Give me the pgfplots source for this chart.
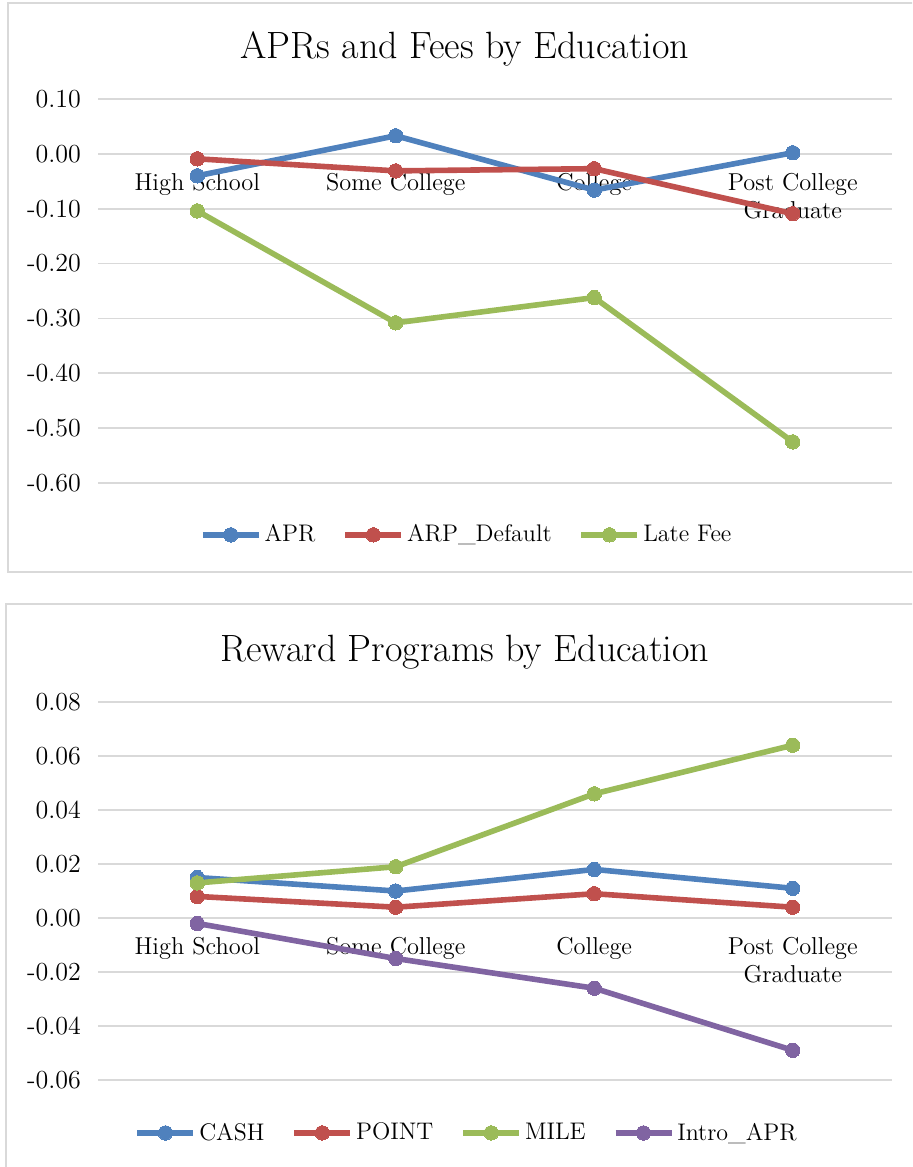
\documentclass[border=0pt]{standalone}
\usepackage{pgfplots}
\pgfplotsset{compat=1.18}
\definecolor{cBlue}{HTML}{4F81BD}
\definecolor{cRed}{HTML}{C0504D}
\definecolor{cGreen}{HTML}{9BBB59}
\definecolor{cPurple}{HTML}{8064A2}
\definecolor{cGrid}{HTML}{D9D9D9}
\pgfplotsset{
  excelchart/.style={
    scale only axis,
    width=397pt,
    xmin=-0.5, xmax=3.5,
    axis x line=middle,
    axis y line=left,
    axis line style={draw=none},
    major tick length=0pt,
    scaled ticks=false,
    xtick={0,1,2,3},
    xticklabels={High School, Some College, College, {Post College\\Graduate}},
    xticklabel style={align=center, anchor=north, yshift=-6pt, font=\fontsize{12.2}{14}\selectfont},
    yticklabel style={anchor=east, xshift=-5pt, font=\fontsize{13}{15}\selectfont},
    /pgf/number format/.cd, fixed, fixed zerofill, precision=2, assume math mode=true,
    /pgfplots/.cd,
    ymajorgrids,
    major grid style={cGrid, line width=0.9pt},
    clip=false,
    title style={at={(axis description cs:0.462,1)}, anchor=center, yshift=19pt, font=\fontsize{19}{22}\selectfont},
    legend columns=-1,
    legend style={draw=none, fill=none, font=\fontsize{12}{14}\selectfont, anchor=center,
      /tikz/every even column/.append style={column sep=12pt},
      nodes={inner xsep=1.5pt}},
    legend image code/.code={\draw[mark repeat=2, mark phase=2, #1] plot coordinates {(0pt,0pt) (14pt,0pt) (28pt,0pt)};},
  },
  ser/.style={color=#1, line width=2.8pt, mark=*, mark size=3.6pt, mark options={solid, fill=#1, draw=#1, line width=0pt}},
}
\begin{document}
\begin{tikzpicture}
\useasboundingbox (0,0) rectangle (456pt,-583.5pt);
\clip (0,0) rectangle (456pt,-583.5pt);
\draw[cGrid, line width=0.6pt] (4pt,-1.5pt) rectangle (470pt,-286pt);
\draw[cGrid, line width=0.6pt] (3pt,-302pt) rectangle (470pt,-600pt);

\begin{axis}[excelchart,
  at={(49pt,-241.5pt)}, anchor=south west,
  height=192pt,
  ymin=-0.6, ymax=0.1,
  ytick={-0.6,-0.5,-0.4,-0.3,-0.2,-0.1,0,0.1},
  title={APRs and Fees by Education},
  legend style={at={(axis description cs:0.465,-0.135)}},
]
\addplot[ser=cBlue] coordinates {(0,-0.040) (1,0.033) (2,-0.066) (3,0.002)};
\addlegendentry{APR}
\addplot[ser=cRed] coordinates {(0,-0.009) (1,-0.031) (2,-0.027) (3,-0.109)};
\addlegendentry{ARP\_Default}
\addplot[ser=cGreen] coordinates {(0,-0.104) (1,-0.308) (2,-0.262) (3,-0.525)};
\addlegendentry{Late Fee}
\end{axis}

\begin{axis}[excelchart,
  at={(49pt,-540pt)}, anchor=south west,
  height=189pt,
  ymin=-0.06, ymax=0.08,
  ytick={-0.06,-0.04,-0.02,0,0.02,0.04,0.06,0.08},
  title={Reward Programs by Education},
  legend style={at={(axis description cs:0.465,-0.14)}},
]
\addplot[ser=cBlue] coordinates {(0,0.015) (1,0.010) (2,0.018) (3,0.011)};
\addlegendentry{CASH}
\addplot[ser=cRed] coordinates {(0,0.008) (1,0.004) (2,0.009) (3,0.004)};
\addlegendentry{POINT}
\addplot[ser=cGreen] coordinates {(0,0.013) (1,0.019) (2,0.046) (3,0.064)};
\addlegendentry{MILE}
\addplot[ser=cPurple] coordinates {(0,-0.002) (1,-0.015) (2,-0.026) (3,-0.049)};
\addlegendentry{Intro\_APR}
\end{axis}
\end{tikzpicture}
\end{document}
